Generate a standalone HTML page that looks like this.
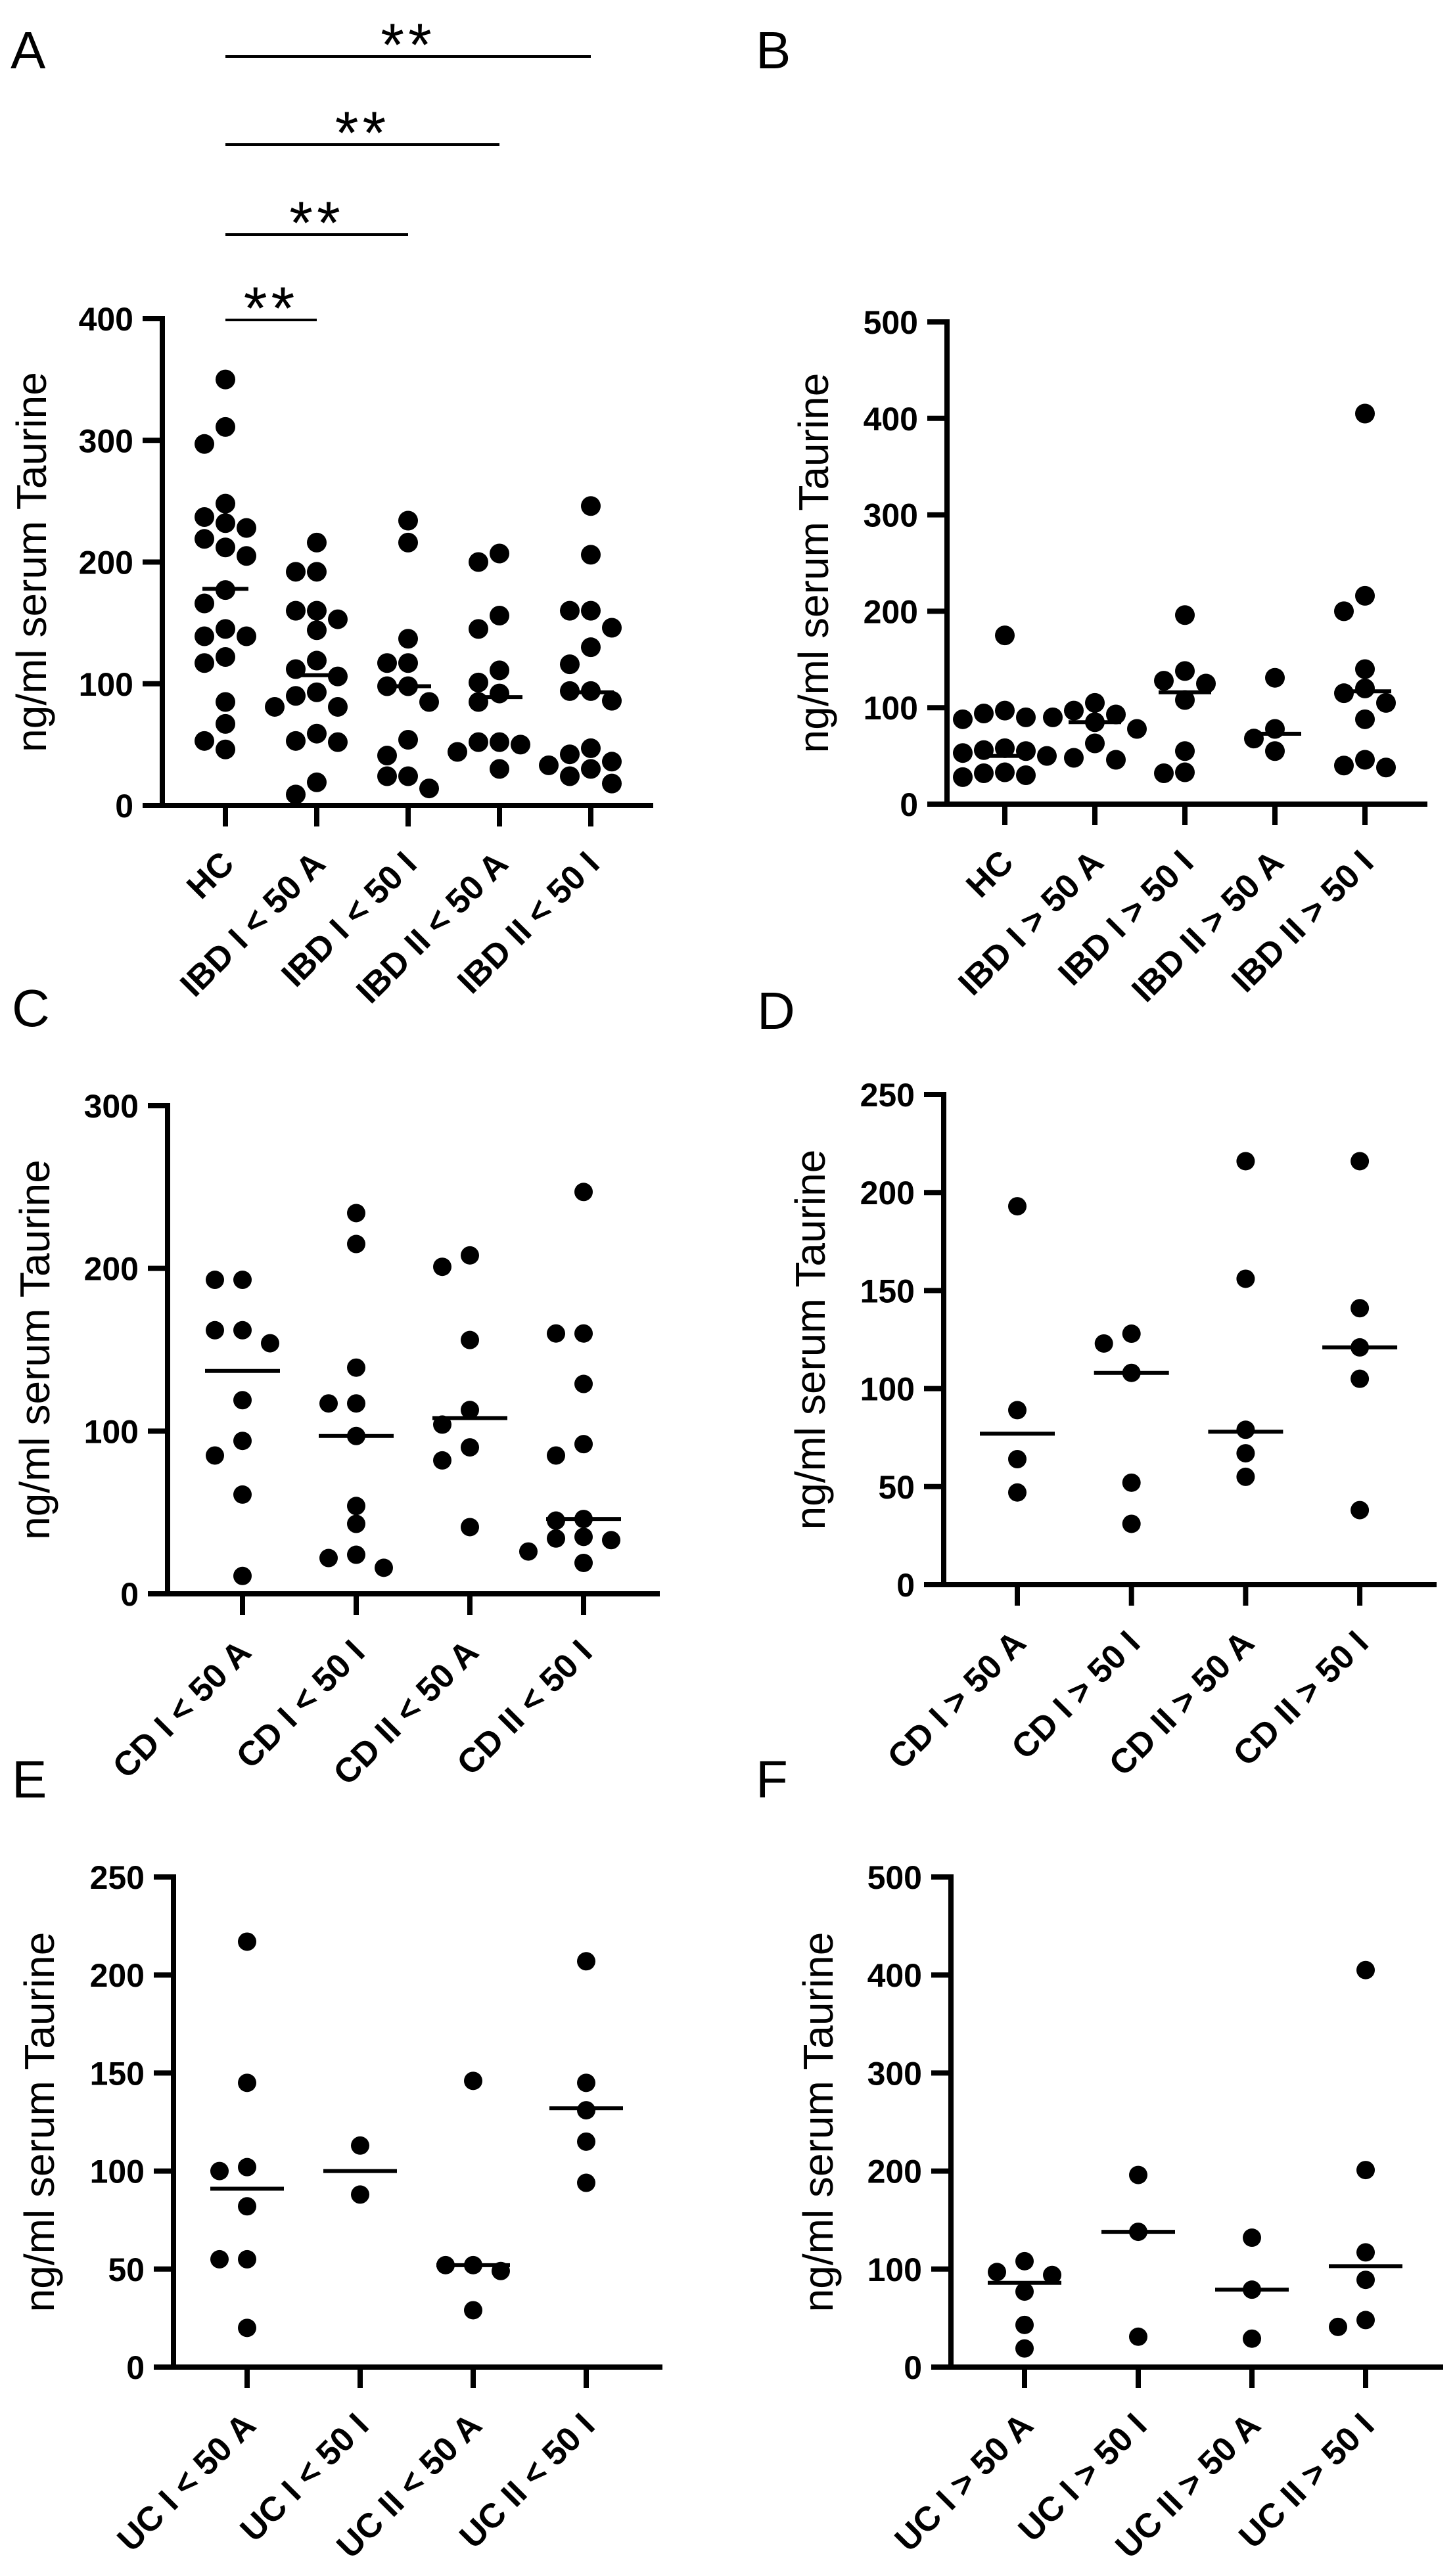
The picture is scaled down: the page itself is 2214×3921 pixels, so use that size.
<!DOCTYPE html>
<html><head><meta charset="utf-8"><style>
html,body{margin:0;padding:0;background:#fff;}
svg{display:block;font-family:"Liberation Sans",Arial,sans-serif;}
</style></head><body>
<svg id="fig" width="2214" height="3921" viewBox="0 0 2214 3921" xmlns="http://www.w3.org/2000/svg"></svg>
<script>
// ---- data ----
const catsA = ["HC","IBD I < 50 A","IBD I < 50 I","IBD II < 50 A","IBD II < 50 I"];
const valsA = [
 [350,311,297,248,237,232,228,219,212,205,177,166,145,139,139,122,117,85,67,53,46],
 [216,192,192,160,160,153,144,119,112,106,93,90,81,81,59,53,52,19,9],
 [234,216,137,117,117,98,98,85,54,41,24,24,14],
 [207,200,156,145,111,101,92,85,52,52,50,44,30],
 [246,206,160,160,146,130,116,94,94,86,47,42,36,33,30,24,18]];
const medA = [178,107,98,89,93];
const catsB = ["HC","IBD I > 50 A","IBD I > 50 I","IBD II > 50 A","IBD II > 50 I"];
const valsB = [
 [175,97,94,90,88,58,56,55,53,50,33,32,30,28],
 [105,97,93,90,85,78,63,48,46],
 [196,138,128,125,108,55,33,32],
 [131,78,68,55],
 [405,216,200,140,120,115,105,88,46,40,38]];
const medB = [50,85,116,73,117];
const catsC = ["CD I < 50 A","CD I < 50 I","CD II < 50 A","CD II < 50 I"];
const valsC = [
 [193,193,162,162,154,119,94,85,61,11],
 [234,215,139,117,117,97,54,43,24,22,16],
 [208,201,156,113,104,90,82,41],
 [247,160,160,129,92,85,46,45,35,34,33,26,19]];
const medC = [137,97,108,46];
const catsD = ["CD I > 50 A","CD I > 50 I","CD II > 50 A","CD II > 50 I"];
const valsD = [
 [193,89,64,47],
 [128,123,108,52,31],
 [216,156,79,67,55],
 [216,141,121,105,38]];
const medD = [77,108,78,121];
const catsE = ["UC I < 50 A","UC I < 50 I","UC II < 50 A","UC II < 50 I"];
const valsE = [
 [217,145,102,100,82,55,55,20],
 [113,88],
 [146,52,52,49,29],
 [207,145,131,115,94]];
const medE = [91,100,52,132];
const catsF = ["UC I > 50 A","UC I > 50 I","UC II > 50 A","UC II > 50 I"];
const valsF = [
 [108,97,94,77,43,19],
 [196,138,31],
 [132,79,29],
 [405,201,117,89,48,41]];
const medF = [86,138,79,103];
const ticksA = [0,100,200,300,400];
const ticksB = [0,100,200,300,400,500];
const ticksC = [0,100,200,300];
const ticksD = [0,50,100,150,200,250];
const ticksE = [0,50,100,150,200,250];
const ticksF = [0,100,200,300,400,500];
const sigPairs = [[0,4],[0,3],[0,2],[0,1]];
const sigLabels = ["**","**","**","**"];

// ---- drawing ----
const NS="http://www.w3.org/2000/svg";
const svg=document.getElementById('fig');
function mk(tag,attrs,parent,text){
  const e=document.createElementNS(NS,tag);
  for(const k in attrs) e.setAttribute(k,attrs[k]);
  if(text!==undefined) e.textContent=text;
  (parent||svg).appendChild(e);
  return e;
}
function panel(cfg){
  const g=mk('g',{});
  
  
  const y=v=>cfg.y0-(v/cfg.max)*(cfg.y0-cfg.yTop);
  const x=i=>cfg.c0+i*cfg.dc;
  const lt=mk('text',{x:cfg.lx,y:cfg.ly,'font-size':80,fill:'#000'},g,cfg.letter);
  
  
  const ya=mk('line',{x1:cfg.ax,y1:y(cfg.max)-4,x2:cfg.ax,y2:cfg.y0+4,stroke:'#000','stroke-width':8},g);
  
  
  const xa=mk('line',{x1:cfg.ax-30,y1:cfg.y0,x2:cfg.xEnd,y2:cfg.y0,stroke:'#000','stroke-width':8},g);
  
  
  cfg.ticks.forEach(t=>{
    const tl=mk('line',{x1:cfg.ax-30,y1:y(t),x2:cfg.ax,y2:y(t),stroke:'#000','stroke-width':8},g);
    
    
    const tt=mk('text',{x:cfg.ax-44,y:y(t)+18,'font-size':50,'font-weight':'bold','text-anchor':'end'},g,String(t));
    
    
  });
  const cy=(cfg.yTop+cfg.y0)/2;
  const ti=mk('text',{x:cfg.tx,y:cy,'font-size':64,'text-anchor':'middle',transform:`rotate(-90 ${cfg.tx} ${cy})`},g,'ng/ml serum Taurine');
  
  
  cfg.cats.forEach((c,i)=>{
    const tk=mk('line',{x1:x(i),y1:cfg.y0,x2:x(i),y2:cfg.y0+32,stroke:'#000','stroke-width':8},g);
    
    
    const ax=x(i)+16, ay=cfg.y0+92;
    const lb=mk('text',{x:ax,y:ay,'font-size':52,'font-weight':'bold','text-anchor':'end',transform:`rotate(-45 ${ax} ${ay})`},g,c);
    
    
    const placed=[];
    const vals=cfg.vals[i].slice().sort((a,b)=>b-a);
    vals.forEach(v=>{
      const py=y(v);
      const cand=[0,-1,1,-2,2,-3,3];
      let off=0;
      for(const k of cand){
        const px=x(i)+k*cfg.step;
        if(!placed.some(p=>Math.hypot(p[0]-px,p[1]-py)<cfg.r*2*0.95)){off=k;break;}
      }
      const px=x(i)+off*cfg.step;
      placed.push([px,py]);
      const d=mk('circle',{cx:px,cy:py,r:cfg.r,fill:'#000'},g);
      
      
    });
    const m=mk('line',{x1:x(i)-cfg.mw,y1:y(cfg.med[i]),x2:x(i)+cfg.mw,y2:y(cfg.med[i]),stroke:'#000','stroke-width':6},g);
    
    
  });
  return {g,x,y};
}
const pA=panel({letter:'A',lx:16,ly:104,ax:247,yTop:485,y0:1226,max:400,xEnd:994,c0:343,dc:139,tx:70,ticks:ticksA,cats:catsA,vals:valsA,med:medA,r:15,step:32,mw:35});
panel({letter:'B',lx:1150,ly:104,ax:1441,yTop:490,y0:1224,max:500,xEnd:2172,c0:1529,dc:137,tx:1260,ticks:ticksB,cats:catsB,vals:valsB,med:medB,r:15,step:32,mw:40});
panel({letter:'C',lx:18,ly:1562,ax:255,yTop:1683,y0:2426,max:300,xEnd:1004,c0:369,dc:173,tx:75,ticks:ticksC,cats:catsC,vals:valsC,med:medC,r:14,step:42,mw:57});
panel({letter:'D',lx:1152,ly:1566,ax:1436,yTop:1666,y0:2412,max:250,xEnd:2186,c0:1548,dc:173.7,tx:1255,ticks:ticksD,cats:catsD,vals:valsD,med:medD,r:14,step:42,mw:57});
panel({letter:'E',lx:18,ly:2736,ax:264,yTop:2857,y0:3603,max:250,xEnd:1008,c0:376,dc:172,tx:82,ticks:ticksE,cats:catsE,vals:valsE,med:medE,r:14,step:42,mw:56});
panel({letter:'F',lx:1150,ly:2736,ax:1447,yTop:2857,y0:3603,max:500,xEnd:2196,c0:1559,dc:173,tx:1267,ticks:ticksF,cats:catsF,vals:valsF,med:medF,r:14,step:42,mw:56});
const sigY=[86,220,357,487];
sigPairs.forEach((p,k)=>{
  const x1=pA.x(p[0]), x2=pA.x(p[1]);
  const l=mk('line',{x1:x1,y1:sigY[k],x2:x2,y2:sigY[k],stroke:'#000','stroke-width':4});
  
  
  const t=mk('text',{x:(x1+x2)/2,y:sigY[k]+14,'font-size':92,'font-weight':'normal','letter-spacing':6,'text-anchor':'middle'},svg,sigLabels[k]);
  
  
});
</script>
</body></html>
